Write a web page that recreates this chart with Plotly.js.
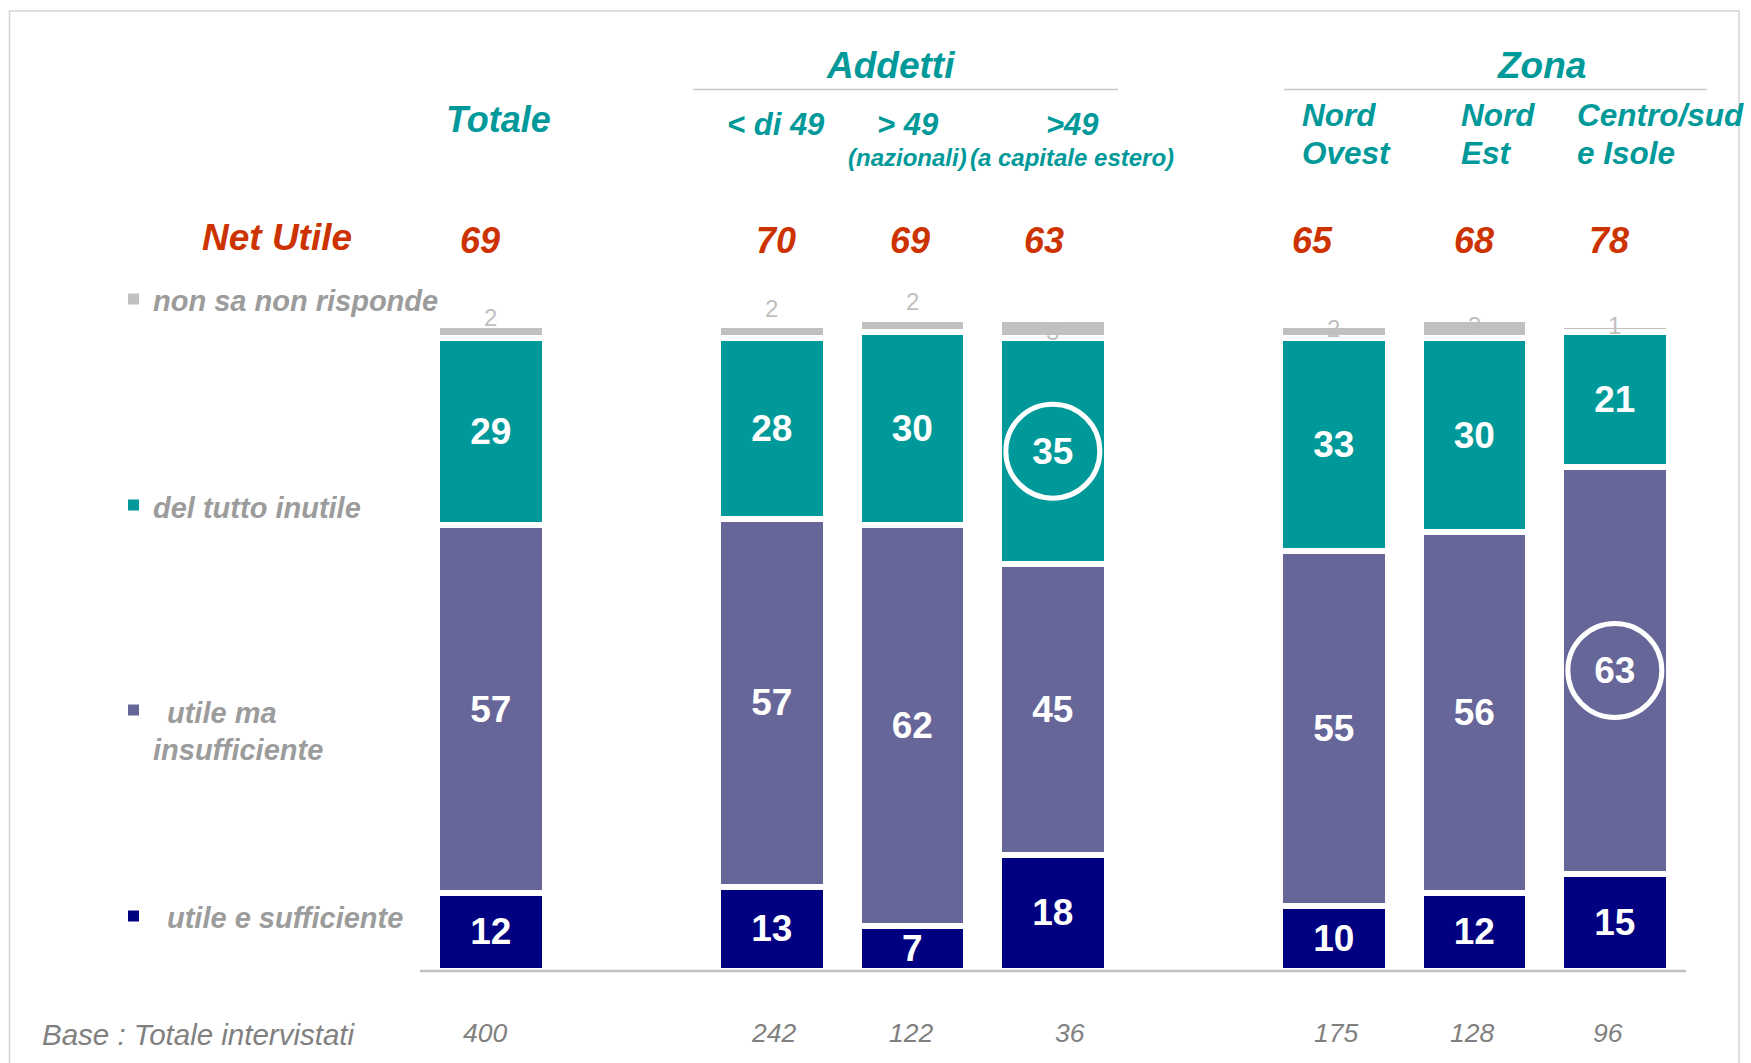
<!DOCTYPE html>
<html><head><meta charset="utf-8">
<script src="https://cdn.plot.ly/plotly-3.0.1.min.js"></script>
<style>html,body{margin:0;padding:0;background:#fff;overflow:hidden}</style>
</head><body><div id="chart" style="width:1751px;height:1063px"></div>
<script>
// ---------- DATA ----------
const categories = ['Totale', '< di 49', '> 49 (nazionali)', '>49 (a capitale estero)', 'Nord Ovest', 'Nord Est', 'Centro/sud e Isole'];
const seriesNames = ['utile e sufficiente', 'utile ma insufficiente', 'del tutto inutile', 'non sa non risponde'];
const utileSufficiente   = [12, 13, 7, 18, 10, 12, 15];
const utileInsufficiente = [57, 57, 62, 45, 55, 56, 63];
const delTuttoInutile    = [29, 28, 30, 35, 33, 30, 21];
const nonSaNonRisponde   = [2, 2, 2, 3, 2, 3, 1];
const netUtile           = [69, 70, 69, 63, 65, 68, 78];
const baseIntervistati   = [400, 242, 122, 36, 175, 128, 96];
const circledDelTutto    = [false, false, false, true, false, false, false];
const circledUtileMa     = [false, false, false, false, false, false, true];

// ---------- LAYOUT CONSTANTS ----------
const W = 1751, H = 1063;
const slot = [0, 2, 3, 4, 6, 7, 8];              // column positions (group gaps)
const X0 = -3.493, X1 = 8.969;                    // x range, plot spans full width
const Y0 = -14.3, Y1 = 150.4;                     // y range, plot spans full height
const pxX = (p) => X0 + p / W * (X1 - X0);
const pxY = (p) => Y1 - p / H * (Y1 - Y0);
const unitPxX = W / (X1 - X0), unitPxY = H / (Y1 - Y0);

const colors = ['#000080', '#666699', '#009999', '#c0c0c0'];
const teal = '#009999', red = '#cc3300', legendGrey = '#9c9c9c', baseGrey = '#808080';
const FONT = 'Arial, "Liberation Sans", sans-serif';

const netShift  = [-11, 4, -2, -9, -21, 0, -6];
const baseShift = [-6, 2, -1, 17, 2, -2, -7];
const nonSaLabelPx = [317, 308, 301.5, 331.5, 328, 325, 325];

// ---------- TRACES ----------
const seriesVals = [utileSufficiente, utileInsufficiente, delTuttoInutile, nonSaNonRisponde];
const traces = seriesVals.map((vals, i) => ({
  type: 'bar',
  x: slot,
  y: vals,
  name: seriesNames[i],
  width: 0.766,
  marker: { color: colors[i], line: { color: '#ffffff', width: 6 } },
  text: i < 3 ? vals.map(String) : vals.map(() => ''),
  textposition: i < 3 ? 'inside' : 'none',
  insidetextanchor: 'middle',
  constraintext: 'none',
  textangle: 0,
  textfont: { color: '#ffffff', size: 37, family: FONT, weight: 'bold' },
  hoverinfo: 'skip',
  showlegend: false
}));

// ---------- ANNOTATIONS ----------
const annotations = [];
function ann(text, xpx, ypx, size, color, opts) {
  annotations.push(Object.assign({
    text: text, xref: 'x', yref: 'y', x: pxX(xpx), y: pxY(ypx),
    showarrow: false, xanchor: 'center', yanchor: 'middle',
    font: { family: FONT, size: size, color: color }
  }, opts || {}));
}
const bi = (t) => '<b><i>' + t + '</i></b>';

// group headers
ann(bi('Addetti'), 890, 65, 37, teal);
ann(bi('Zona'), 1541, 65, 37, teal);
ann(bi('Totale'), 498, 119.5, 36, teal);
ann(bi('&lt; di 49'), 776, 124, 31, teal);
ann(bi('&gt; 49'), 908, 124, 31, teal);
ann(bi('&gt;49'), 1072, 124, 31, teal);
ann(bi('(nazionali)'), 907, 157.5, 24, teal);
ann(bi('(a capitale estero)'), 1072, 157.5, 24, teal);
ann(bi('Nord'), 1300, 115, 31.5, teal, { xanchor: 'left' });
ann(bi('Ovest'), 1300, 153, 31.5, teal, { xanchor: 'left' });
ann(bi('Nord'), 1459, 115, 31.5, teal, { xanchor: 'left' });
ann(bi('Est'), 1459, 153, 31.5, teal, { xanchor: 'left' });
ann(bi('Centro/sud'), 1575, 115, 31.5, teal, { xanchor: 'left' });
ann(bi('e Isole'), 1575, 153, 31.5, teal, { xanchor: 'left' });

// Net utile row
ann(bi('Net Utile'), 277, 237, 37, red);
netUtile.forEach((v, i) => {
  annotations.push({ text: bi(String(v)), xref: 'x', yref: 'y', x: slot[i], y: pxY(240), xshift: netShift[i],
    showarrow: false, xanchor: 'center', yanchor: 'middle', font: { family: FONT, size: 36, color: red } });
});

// non sa labels
nonSaNonRisponde.forEach((v, i) => {
  annotations.push({ text: String(v), xref: 'x', yref: 'y', x: slot[i], y: pxY(nonSaLabelPx[i]),
    showarrow: false, xanchor: 'center', yanchor: 'middle', font: { family: FONT, size: 24, color: '#bfbfbf' } });
});

// legend texts
ann(bi('non sa non risponde'), 151, 301, 29, legendGrey, { xanchor: 'left' });
ann(bi('del tutto inutile'), 151, 508, 29, legendGrey, { xanchor: 'left' });
ann(bi('utile ma'), 165, 712.5, 29, legendGrey, { xanchor: 'left' });
ann(bi('insufficiente'), 151, 750, 29, legendGrey, { xanchor: 'left' });
ann(bi('utile e sufficiente'), 165, 918, 29, legendGrey, { xanchor: 'left' });

// base row
ann('<i>Base : Totale intervistati</i>', 40, 1034, 29.5, baseGrey, { xanchor: 'left' });
baseIntervistati.forEach((v, i) => {
  annotations.push({ text: '<i>' + v + '</i>', xref: 'x', yref: 'y', x: slot[i], y: pxY(1033), xshift: baseShift[i],
    showarrow: false, xanchor: 'center', yanchor: 'middle', font: { family: FONT, size: 26.5, color: baseGrey } });
});

// ---------- SHAPES ----------
const shapes = [];
// frame
shapes.push({ type: 'rect', xref: 'paper', yref: 'paper', x0: 9.5 / W, x1: 1739 / W, y0: -0.05, y1: 1 - 11 / H,
  line: { color: '#d4d4d4', width: 1.5 }, fillcolor: 'rgba(0,0,0,0)', layer: 'below' });
// header separator lines
shapes.push({ type: 'line', xref: 'x', yref: 'y', x0: pxX(693), x1: pxX(1118), y0: pxY(89.5), y1: pxY(89.5), line: { color: '#c8c8c8', width: 1.5 } });
shapes.push({ type: 'line', xref: 'x', yref: 'y', x0: pxX(1284), x1: pxX(1707), y0: pxY(89.5), y1: pxY(89.5), line: { color: '#c8c8c8', width: 1.5 } });
// baseline
shapes.push({ type: 'line', xref: 'x', yref: 'y', x0: pxX(420), x1: pxX(1686), y0: pxY(971), y1: pxY(971), line: { color: '#c0c0c0', width: 2.5 }, layer: 'above' });
// legend squares
[[3, 299], [2, 505], [1, 710], [0, 916]].forEach(([ci, yc]) => {
  shapes.push({ type: 'rect', xref: 'x', yref: 'y', x0: pxX(128), x1: pxX(139), y0: pxY(yc - 5.5), y1: pxY(yc + 5.5),
    fillcolor: colors[ci], line: { width: 0 } });
});
// highlight circles at segment centers
const rx = 47 / unitPxX, ry = 47 / unitPxY;
slot.forEach((s, i) => {
  const flags = [[circledUtileMa[i], utileSufficiente[i] + utileInsufficiente[i] / 2],
                 [circledDelTutto[i], utileSufficiente[i] + utileInsufficiente[i] + delTuttoInutile[i] / 2]];
  flags.forEach(([on, yc]) => {
    if (on) shapes.push({ type: 'circle', xref: 'x', yref: 'y', x0: s - rx, x1: s + rx, y0: yc - ry, y1: yc + ry,
      line: { color: '#ffffff', width: 5 }, fillcolor: 'rgba(0,0,0,0)', layer: 'above' });
  });
});

const layout = {
  width: W, height: H,
  margin: { l: 0, r: 0, t: 0, b: 0, pad: 0 },
  paper_bgcolor: '#ffffff', plot_bgcolor: 'rgba(0,0,0,0)',
  barmode: 'stack',
  showlegend: false,
  xaxis: { range: [X0, X1], visible: false, fixedrange: true },
  yaxis: { range: [Y0, Y1], visible: false, fixedrange: true },
  annotations: annotations,
  shapes: shapes,
  font: { family: FONT }
};

Plotly.newPlot('chart', traces, layout, { staticPlot: true, displayModeBar: false });
</script>
</body></html>
